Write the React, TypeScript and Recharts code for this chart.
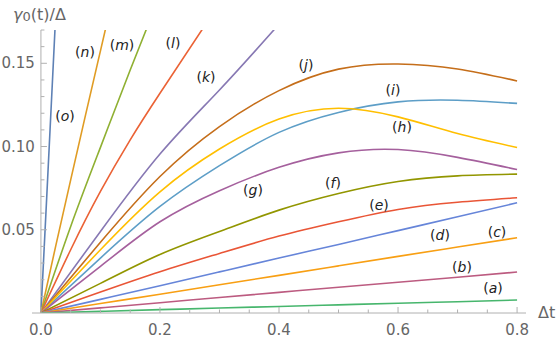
import { LineChart, Line, XAxis, YAxis, ReferenceLine, ReferenceDot } from "recharts";

const W = 559;
const H = 341;
const X_MIN = -0.015;
const X_MAX = 0.815;
const Y_MAX = 0.17;
const Y_AXIS_W = 32;
const X_AXIS_H = 28;
const MARGIN = { top: 30, right: 33, bottom: 0, left: 0 };
const PLOT_W = W - Y_AXIS_W - MARGIN.left - MARGIN.right;
// pixel offset of t = 0 from the left edge of the plot
const ORIGIN_DX = ((0 - X_MIN) / (X_MAX - X_MIN)) * PLOT_W;

const AXIS = "#b0b0b0";
const TICK_TEXT = "#666666";
const FONT = "DejaVu Sans";

// time grid shared by the slower curves
const tBase = [0, 0.1, 0.2, 0.3, 0.4, 0.5, 0.6, 0.7, 0.8];
const tK = [0, 0.1, 0.2, 0.3, 0.4];
const tL = [0, 0.05, 0.1, 0.15, 0.2, 0.3];
const tM = [0, 0.05, 0.1, 0.15, 0.2];
const tN = [0, 0.025, 0.05, 0.075, 0.1, 0.125];
const tO = [0, 0.01, 0.02, 0.03];

const valsA = [0, 0.001, 0.002, 0.003, 0.0039, 0.0049, 0.0059, 0.0068, 0.0078];
const valsB = [0, 0.0031, 0.0062, 0.0093, 0.0124, 0.0155, 0.0185, 0.0215, 0.0246];
const valsC = [0, 0.0057, 0.0113, 0.017, 0.0226, 0.0283, 0.034, 0.0396, 0.0452];
const valsD = [0, 0.0082, 0.0164, 0.0247, 0.033, 0.0412, 0.0495, 0.0578, 0.0662];
const valsE = [0, 0.0126, 0.0248, 0.0358, 0.0462, 0.0548, 0.0622, 0.0665, 0.0692];
const valsF = [0, 0.0178, 0.0352, 0.049, 0.0618, 0.0718, 0.079, 0.0824, 0.0834];
const valsG = [0, 0.028, 0.0548, 0.0735, 0.0875, 0.0962, 0.0982, 0.0935, 0.0862];
const valsH = [0, 0.038, 0.0728, 0.0985, 0.1165, 0.123, 0.1178, 0.1078, 0.0994];
const valsI = [0, 0.033, 0.064, 0.0885, 0.1085, 0.1205, 0.1268, 0.1278, 0.1259];
const valsJ = [0, 0.0425, 0.082, 0.112, 0.1336, 0.1465, 0.1496, 0.1466, 0.1394];
const valsK = [0, 0.049, 0.0955, 0.134, 0.1735];
const valsL = [0, 0.038, 0.073, 0.104, 0.132, 0.186];
const valsM = [0, 0.052, 0.0995, 0.146, 0.191];
const valsN = [0, 0.0405, 0.08, 0.119, 0.1575, 0.196];
const valsO = [0, 0.0715, 0.144, 0.217];

// drawn in this order (o first, a on top)
const series = [
  { id: "o", t: tO, v: valsO, color: "#5E81B5" },
  { id: "n", t: tN, v: valsN, color: "#E09C24" },
  { id: "m", t: tM, v: valsM, color: "#8FB032" },
  { id: "l", t: tL, v: valsL, color: "#EB6235" },
  { id: "k", t: tK, v: valsK, color: "#8778B3" },
  { id: "j", t: tBase, v: valsJ, color: "#C56E1A" },
  { id: "i", t: tBase, v: valsI, color: "#5D9EC7" },
  { id: "h", t: tBase, v: valsH, color: "#FFBF00" },
  { id: "g", t: tBase, v: valsG, color: "#A5609D" },
  { id: "f", t: tBase, v: valsF, color: "#929600" },
  { id: "e", t: tBase, v: valsE, color: "#E95536" },
  { id: "d", t: tBase, v: valsD, color: "#6685D9" },
  { id: "c", t: tBase, v: valsC, color: "#F89F13" },
  { id: "b", t: tBase, v: valsB, color: "#BC5B80" },
  { id: "a", t: tBase, v: valsA, color: "#47B66D" },
];

// curve label anchors, in data units
const labels = [
  { id: "o", t: 0.0405, v: 0.1181 },
  { id: "n", t: 0.0741, v: 0.1566 },
  { id: "m", t: 0.1363, v: 0.1608 },
  { id: "l", t: 0.2219, v: 0.162 },
  { id: "k", t: 0.2774, v: 0.1416 },
  { id: "j", t: 0.4454, v: 0.1488 },
  { id: "i", t: 0.5916, v: 0.1338 },
  { id: "h", t: 0.6067, v: 0.1116 },
  { id: "g", t: 0.3563, v: 0.0738 },
  { id: "f", t: 0.4907, v: 0.078 },
  { id: "e", t: 0.568, v: 0.0647 },
  { id: "d", t: 0.6705, v: 0.0467 },
  { id: "c", t: 0.7663, v: 0.0485 },
  { id: "b", t: 0.7075, v: 0.0275 },
  { id: "a", t: 0.7596, v: 0.015 },
];

const xMajor = [0, 0.2, 0.4, 0.6, 0.8];
const xTicks = Array.from({ length: 17 }, (_, i) => +(i * 0.05).toFixed(2));
const yMajor = [0.05, 0.1, 0.15];
const yTicks = Array.from({ length: 17 }, (_, i) => +((i + 1) * 0.01).toFixed(2));

const isMajor = (val: number, list: number[]) => list.some((m) => Math.abs(m - val) < 1e-9);

// eslint-disable-next-line @typescript-eslint/no-explicit-any
const XTick = (props: any) => {
  const { x, y, payload } = props;
  const major = isMajor(payload.value, xMajor);
  return (
    <g>
      <line x1={x} x2={x} y1={y} y2={y - (major ? 6 : 3.5)} stroke={AXIS} />
      {major && (
        <text x={x} y={y + 22} textAnchor="middle" fontFamily={FONT} fontSize={15} fill={TICK_TEXT}>
          {payload.value.toFixed(1)}
        </text>
      )}
    </g>
  );
};

// eslint-disable-next-line @typescript-eslint/no-explicit-any
const YTick = (props: any) => {
  const { x, y, payload } = props;
  const ax = x + ORIGIN_DX;
  const major = isMajor(payload.value, yMajor);
  return (
    <g>
      <line x1={ax} x2={ax + (major ? 6 : 3.5)} y1={y} y2={y} stroke={AXIS} />
      {major && (
        <text x={ax - 6} y={y + 5} textAnchor="end" fontFamily={FONT} fontSize={15} fill={TICK_TEXT}>
          {payload.value.toFixed(2)}
        </text>
      )}
    </g>
  );
};

const curveLabel = (id: string) =>
  // eslint-disable-next-line @typescript-eslint/no-explicit-any
  (p: any) => (
    <text
      x={p.cx}
      y={p.cy}
      textAnchor="middle"
      dominantBaseline="central"
      fontFamily={FONT}
      fontSize={14}
      fill="#222"
    >
      (<tspan fontStyle="italic">{id}</tspan>)
    </text>
  );

export default function App() {
  return (
    <div style={{ position: "absolute", left: 0, top: 0, width: W, height: H, background: "#fff" }}>
      <LineChart width={W} height={H} margin={MARGIN}>
        <XAxis
          dataKey="t"
          type="number"
          domain={[X_MIN, X_MAX]}
          allowDataOverflow
          ticks={xTicks}
          interval={0}
          tick={<XTick />}
          tickLine={false}
          tickSize={0}
          tickMargin={0}
          axisLine={{ stroke: AXIS }}
          height={X_AXIS_H}
        />
        <YAxis
          type="number"
          domain={[0, Y_MAX]}
          allowDataOverflow
          ticks={yTicks}
          interval={0}
          tick={<YTick />}
          tickLine={false}
          tickSize={0}
          tickMargin={0}
          axisLine={false}
          width={Y_AXIS_W}
        />
        <ReferenceLine x={0} stroke={AXIS} />
        {series.map((s) => (
          <Line
            key={s.id}
            data={s.t.map((t, i) => ({ t, v: s.v[i] }))}
            dataKey="v"
            type="natural"
            stroke={s.color}
            strokeWidth={1.6}
            dot={false}
            activeDot={false}
            isAnimationActive={false}
          />
        ))}
        {labels.map((l) => (
          <ReferenceDot key={l.id} x={l.t} y={l.v} r={1} shape={curveLabel(l.id)} />
        ))}
      </LineChart>
      <svg
        width={W}
        height={H}
        style={{ position: "absolute", left: 0, top: 0, pointerEvents: "none" }}
      >
        <text x={13} y={19.5} fontFamily={FONT} fontSize={16} fill={TICK_TEXT}>
          <tspan fontStyle="italic">γ</tspan>
          <tspan fontSize={13} dy={1.5}>0</tspan>
          <tspan dy={-1.5}>(t)/Δ</tspan>
        </text>
        <text x={538} y={318} fontFamily={FONT} fontSize={16} fill={TICK_TEXT}>
          Δt
        </text>
      </svg>
    </div>
  );
}
